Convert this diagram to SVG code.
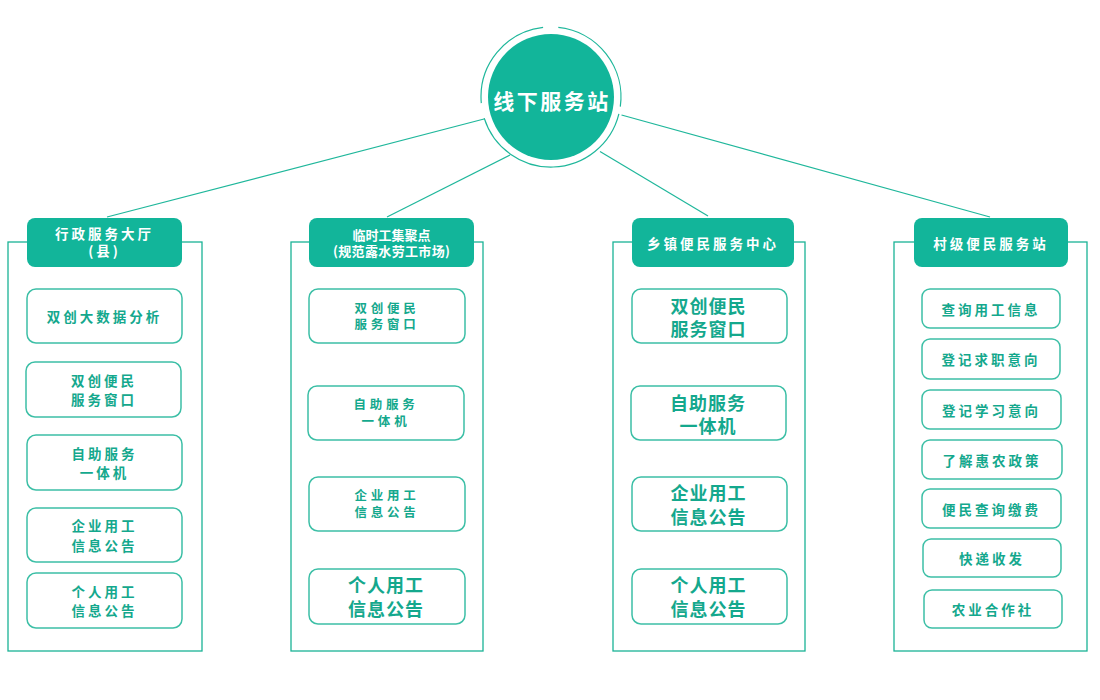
<svg xmlns="http://www.w3.org/2000/svg" width="1100" height="700" viewBox="0 0 1100 700">
<style>
text{font-family:"Noto Sans CJK SC","Noto Sans",sans-serif;font-weight:700;text-anchor:middle}
.conn{stroke:#1fb79b;stroke-width:1.2;fill:none}
.col{fill:none;stroke:#1ab396;stroke-width:1.3}
.hdr{fill:#12b59a}
.ht{fill:#ffffff;font-size:13.5px;letter-spacing:3px}
.item{fill:#ffffff;stroke:#3cbfa6;stroke-width:1.5}
.it{fill:#14a88d;font-size:13.5px;letter-spacing:3px}
.sm{fill:#14a88d;font-size:12.5px;letter-spacing:3.8px}
.big{fill:#14a88d;font-size:18px;letter-spacing:1px}
</style>
<rect width="1100" height="700" fill="#ffffff"/>
<g id="connectors">
<line class="conn" x1="484" y1="119" x2="107" y2="217"/>
<line class="conn" x1="510" y1="155" x2="387" y2="217"/>
<line class="conn" x1="600" y1="151.5" x2="708" y2="216"/>
<line class="conn" x1="621.5" y1="115" x2="990" y2="217"/>
</g>
<g id="center">
<path class="conn" d="M558.3 27.4 A70 70 0 0 1 620.3 106.7"/>
<path class="conn" d="M618.9 113.9 A70 70 0 0 1 484.2 118.1"/>
<path class="conn" d="M481.3 103.1 A70 70 0 0 1 543.1 27.4"/>
<circle cx="551" cy="97" r="63" fill="#12b59a"/>
<text x="552" y="108.5" style="fill:#fff;font-size:21px;letter-spacing:2.5px">线下服务站</text>
</g>
<g id="col1">
<rect class="col" x="8" y="242" width="194" height="409"/>
<rect class="hdr" x="27" y="218" width="155" height="49" rx="8"/>
<text class="ht"><tspan x="104.5" y="238.7">行政服务大厅</tspan><tspan x="104.5" y="255.7">(县)</tspan></text>
</g>
<g id="c1b1"><rect class="item" x="27" y="289" width="155" height="54" rx="9"/><text class="it" x="104.5" y="321.7">双创大数据分析</text></g>
<g id="c1b2"><rect class="item" x="26" y="362" width="155" height="55" rx="9"/><text class="it"><tspan x="104" y="385.7">双创便民</tspan><tspan x="104" y="404.7">服务窗口</tspan></text></g>
<g id="c1b3"><rect class="item" x="27" y="435" width="155" height="55" rx="9"/><text class="it"><tspan x="104.5" y="458.7">自助服务</tspan><tspan x="104.5" y="477.7">一体机</tspan></text></g>
<g id="c1b4"><rect class="item" x="27" y="508" width="155" height="54" rx="9"/><text class="it"><tspan x="104.5" y="531.4">企业用工</tspan><tspan x="104.5" y="550.7">信息公告</tspan></text></g>
<g id="c1b5"><rect class="item" x="27" y="573" width="155" height="55" rx="9"/><text class="it"><tspan x="104.5" y="597">个人用工</tspan><tspan x="104.5" y="616.4">信息公告</tspan></text></g>
<g id="col2">
<rect class="col" x="291" y="242" width="192" height="409"/>
<rect class="hdr" x="309" y="218" width="165" height="49" rx="8"/>
<text class="ht" style="letter-spacing:0;font-size:13px"><tspan x="391.5" y="239.5">临时工集聚点</tspan><tspan x="391.5" y="255.5" textLength="117" lengthAdjust="spacing">(规范露水劳工市场)</tspan></text>
</g>
<g id="c2b1"><rect class="item" x="309" y="289" width="156" height="54" rx="9"/><text class="sm"><tspan x="387" y="312.7">双创便民</tspan><tspan x="387" y="328.7">服务窗口</tspan></text></g>
<g id="c2b2"><rect class="item" x="308" y="386" width="156" height="54" rx="9"/><text class="sm"><tspan x="386" y="409.4">自助服务</tspan><tspan x="386" y="426.1">一体机</tspan></text></g>
<g id="c2b3"><rect class="item" x="309" y="477" width="156" height="54" rx="9"/><text class="sm"><tspan x="387" y="500.4">企业用工</tspan><tspan x="387" y="516.7">信息公告</tspan></text></g>
<g id="c2b4"><rect class="item" x="309" y="569" width="156" height="55" rx="9"/><text class="big"><tspan x="386" y="592.3">个人用工</tspan><tspan x="386" y="616.3">信息公告</tspan></text></g>
<g id="col3">
<rect class="col" x="613" y="242" width="192" height="409"/>
<rect class="hdr" x="632" y="218" width="162" height="49" rx="8"/>
<text class="ht" x="713" y="248.7">乡镇便民服务中心</text>
</g>
<g id="c3b1"><rect class="item" x="632" y="289" width="155" height="54" rx="9"/><text class="big"><tspan x="708.5" y="313">双创便民</tspan><tspan x="708.5" y="336.3">服务窗口</tspan></text></g>
<g id="c3b2"><rect class="item" x="631" y="386" width="155" height="54" rx="9"/><text class="big"><tspan x="708" y="409.6">自助服务</tspan><tspan x="708" y="433">一体机</tspan></text></g>
<g id="c3b3"><rect class="item" x="632" y="477" width="155" height="54" rx="9"/><text class="big"><tspan x="708.5" y="499.6">企业用工</tspan><tspan x="708.5" y="523.6">信息公告</tspan></text></g>
<g id="c3b4"><rect class="item" x="632" y="569" width="155" height="55" rx="9"/><text class="big"><tspan x="708.5" y="592.3">个人用工</tspan><tspan x="708.5" y="616.3">信息公告</tspan></text></g>
<g id="col4">
<rect class="col" x="894" y="242" width="193" height="409"/>
<rect class="hdr" x="914" y="218" width="154" height="49" rx="8"/>
<text class="ht" x="991" y="248.7">村级便民服务站</text>
</g>
<g id="c4b1"><rect class="item" x="922" y="289" width="138" height="39" rx="8"/><text class="it" x="991" y="314.7">查询用工信息</text></g>
<g id="c4b2"><rect class="item" x="922" y="339" width="138" height="40" rx="8"/><text class="it" x="991" y="365.4">登记求职意向</text></g>
<g id="c4b3"><rect class="item" x="922" y="390" width="139" height="39" rx="8"/><text class="it" x="991.5" y="416.4">登记学习意向</text></g>
<g id="c4b4"><rect class="item" x="922" y="440" width="140" height="39" rx="8"/><text class="it" x="992" y="465.7">了解惠农政策</text></g>
<g id="c4b5"><rect class="item" x="922" y="489" width="139" height="39" rx="8"/><text class="it" x="991.5" y="514.7">便民查询缴费</text></g>
<g id="c4b6"><rect class="item" x="923" y="539" width="138" height="38" rx="8"/><text class="it" x="992" y="563.7">快递收发</text></g>
<g id="c4b7"><rect class="item" x="924" y="590" width="138" height="38" rx="8"/><text class="it" x="993" y="614.7">农业合作社</text></g>
</svg>
